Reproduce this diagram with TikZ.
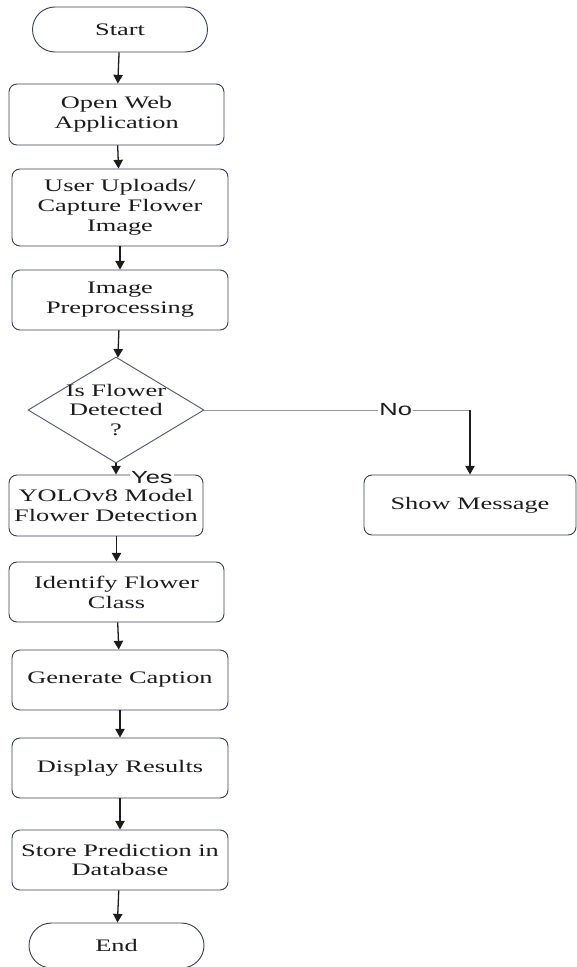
\documentclass[tikz,border=0pt]{standalone}
\usepackage{fontspec}
\setmainfont{Liberation Serif}[FakeStretch=1.5]
\newfontfamily\answerfont{Liberation Sans}[FakeStretch=1.45]
\usepackage{tikz}
\usetikzlibrary{arrows.meta,shapes.geometric,shapes.misc}
\definecolor{boxline}{HTML}{3B4257}
\definecolor{diamline}{HTML}{555B70}
\definecolor{noline}{HTML}{9A9A9A}
\definecolor{ink}{HTML}{1C1C1C}

\begin{document}
\begin{tikzpicture}[x=0.3mm,y=-0.3mm]
    \tikzset{vertex/.style = {shape=rectangle,draw=boxline,line width=0.8pt,rounded corners=2.4mm,align=center,text=ink,inner sep=0pt,minimum width=64.8mm,minimum height=18mm,font=\fontsize{15pt}{17pt}\selectfont}}
    \tikzset{terminal/.style = {vertex,shape=rounded rectangle,sharp corners,minimum width=52.5mm,minimum height=13.5mm}}
    \tikzset{decision/.style = {vertex,shape=diamond,draw=diamline,sharp corners,shape aspect=1.66,inner sep=-0.8mm,minimum width=52.8mm,minimum height=31.8mm}}
    \tikzset{edge/.style = {-{Triangle[length=2.6mm,width=2.8mm]},line width=1.1pt,draw=ink}}
    \tikzset{answer/.style = {fill=white,inner sep=1pt,text=ink,font=\answerfont\fontsize{15pt}{17pt}\selectfont}}
    \useasboundingbox (0,0) rectangle (577,967);
    % vertices
    \node[terminal] (1) at (120,29.5) {Start};
    \node[vertex,minimum width=64.5mm,minimum height=18.3mm] (2) at (116.5,114.5) {Open Web\\ Application};
    \node[vertex,minimum height=23.1mm] (3) at (120,207.5) {User Uploads/\\ Capture Flower\\ Image};
    \node[vertex] (4) at (120,300) {Image\\ Preprocessing};
    \node[decision] (5) at (116,410) {Is Flower\\ Detected\\ ?};
    \node[vertex,minimum width=58.2mm,minimum height=18.3mm] (6) at (106,505.5) {YOLOv8 Model\\ Flower Detection};
    \node[vertex,minimum width=63.6mm] (7) at (470,505) {Show Message};
    \node[vertex,minimum width=64.5mm] (8) at (116.5,592) {Identify Flower\\ Class};
    \node[vertex] (9) at (120,680) {Generate Caption};
    \node[vertex] (10) at (120,768) {Display Results};
    \node[vertex] (11) at (120,860) {Store Prediction in\\ Database};
    \node[terminal] (12) at (116.5,945.5) {End};
    % edges
    \draw[edge] (1) -- (2);
    \draw[edge] (2) -- (3);
    \draw[edge] (3) -- (4);
    \draw[edge] (4) -- (5);
    \draw[edge] (5) -- (5 |- 6.north) node[answer,at end,anchor=west,xshift=4mm,yshift=-1mm] {Yes};
    \draw[draw=noline,line width=0.8pt] (5) -- (5 -| 7) node[answer,pos=0.72] {No};
    \draw[edge] (5 -| 7) -- (7);
    \draw[edge] (8 |- 6.south) -- (8);
    \draw[edge] (8) -- (9);
    \draw[edge] (9) -- (10);
    \draw[edge] (10) -- (11);
    \draw[edge] (11) -- (12);
\end{tikzpicture}
\end{document}
